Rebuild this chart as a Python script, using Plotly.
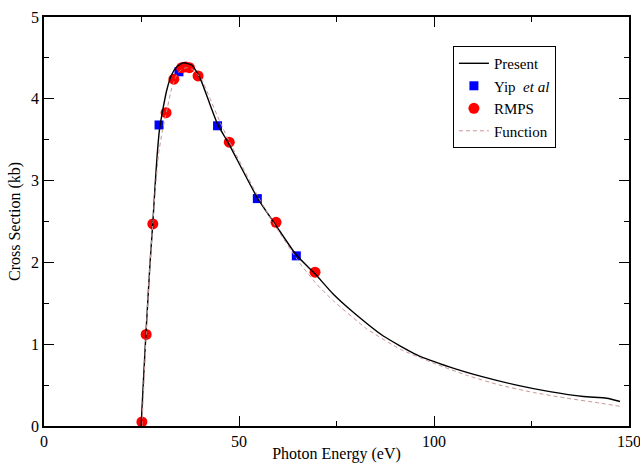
import plotly.graph_objects as go

# Present (solid black line)
present_x = [24.9, 25.5, 26.15, 27.2, 27.9, 28.5, 29.0, 29.6, 30.6, 31.5, 32.7, 34.0, 35.7, 37.9,
             39.15, 40.4, 42.1, 44.5, 47.5, 51.0, 54.7, 59.5, 64.7, 69.5, 74.2, 79.3, 87.0,
             95.6, 104.1, 112.6, 121.2, 129.7, 138.3, 144.3, 147.7]
present_y = [0.0, 0.56, 1.14, 2.0, 2.48, 2.95, 3.30, 3.62, 3.90, 4.11, 4.29, 4.39, 4.44, 4.41,
             4.33, 4.21, 3.99, 3.69, 3.44, 3.12, 2.79, 2.45, 2.09, 1.86, 1.61, 1.39, 1.10,
             0.87, 0.72, 0.60, 0.50, 0.42, 0.36, 0.34, 0.30]

# Function (dashed fit)
func_x = [25.1, 25.6, 26.2, 27.0, 27.9, 28.6, 29.4, 30.4, 31.5, 32.7, 34.0, 35.3, 36.6, 38.0,
          39.2, 40.4, 42.6, 45.1, 47.5, 51.0, 54.7, 59.5, 65.6, 70.0, 74.2, 82.7, 91.3,
          99.8, 108.4, 116.9, 125.5, 134.0, 142.6, 147.7]
func_y = [0.0, 0.5, 1.12, 1.85, 2.47, 2.92, 3.33, 3.62, 3.86, 4.12, 4.29, 4.36, 4.38, 4.36,
          4.31, 4.24, 4.00, 3.72, 3.48, 3.16, 2.82, 2.43, 1.99, 1.73, 1.53, 1.19, 0.94,
          0.77, 0.62, 0.50, 0.41, 0.34, 0.28, 0.24]

# Yip et al (blue squares)
yip_x = [29.5, 34.6, 44.5, 54.7, 64.7]
yip_y = [3.68, 4.33, 3.67, 2.78, 2.08]

# RMPS (red circles)
rmps_x = [25.1, 26.2, 27.9, 31.3, 33.3, 35.3, 36.3, 37.3, 39.5, 47.5, 59.5, 69.5]
rmps_y = [0.05, 1.12, 2.47, 3.83, 4.24, 4.38, 4.39, 4.38, 4.28, 3.47, 2.49, 1.88]

FONT = "Liberation Serif, Times New Roman, DejaVu Serif, serif"

fig = go.Figure()
fig.add_trace(go.Scatter(x=yip_x, y=yip_y, mode="markers", name="Yip  <i>et al</i>",
                         marker=dict(symbol="square", size=9, color="#0000ff"), legendrank=2,
                         cliponaxis=False))
fig.add_trace(go.Scatter(x=rmps_x, y=rmps_y, mode="markers", name="RMPS",
                         marker=dict(symbol="circle", size=11, color="#ff0000"), legendrank=3,
                         cliponaxis=False))
fig.add_trace(go.Scatter(x=present_x, y=present_y, mode="lines", name="Present",
                         line=dict(color="black", width=1.4, shape="spline", smoothing=0.5),
                         legendrank=1))
fig.add_trace(go.Scatter(x=func_x, y=func_y, mode="lines", name="Function",
                         line=dict(color="#c89696", width=1, dash="4px,3px", shape="spline",
                                   smoothing=0.5),
                         legendrank=4))

axis_common = dict(
    showgrid=False, zeroline=False, showline=True, linecolor="black", linewidth=1.5,
    mirror="ticks", ticks="inside", ticklen=10, tickwidth=1, tickcolor="black",
    tickfont=dict(family=FONT, size=16, color="black"), automargin=False,
    ticklabeloverflow="allow",
)

fig.update_xaxes(range=[0, 150], dtick=50, tick0=0,
                 minor=dict(ticks="inside", ticklen=5, dtick=25, tick0=0, tickcolor="black"),
                 title=dict(text="Photon Energy (eV)", font=dict(family=FONT, size=16, color="black"),
                            standoff=1),
                 **axis_common)
fig.update_yaxes(range=[0, 5], dtick=1, tick0=0,
                 minor=dict(ticks="inside", ticklen=5, dtick=0.5, tick0=0, tickcolor="black"),
                 title=dict(text="Cross Section (kb)", font=dict(family=FONT, size=16, color="black"),
                            standoff=6),
                 **axis_common)

fig.update_layout(
    width=640, height=463,
    margin=dict(l=44, r=11, t=17, b=37),
    paper_bgcolor="white", plot_bgcolor="white",
    showlegend=True,
    legend=dict(x=0.699, y=0.929, xanchor="left", yanchor="top",
                bgcolor="white", bordercolor="black", borderwidth=1,
                font=dict(family=FONT, size=15, color="black"),
                tracegroupgap=0, itemwidth=30),
)

fig.write_html("out.html")
